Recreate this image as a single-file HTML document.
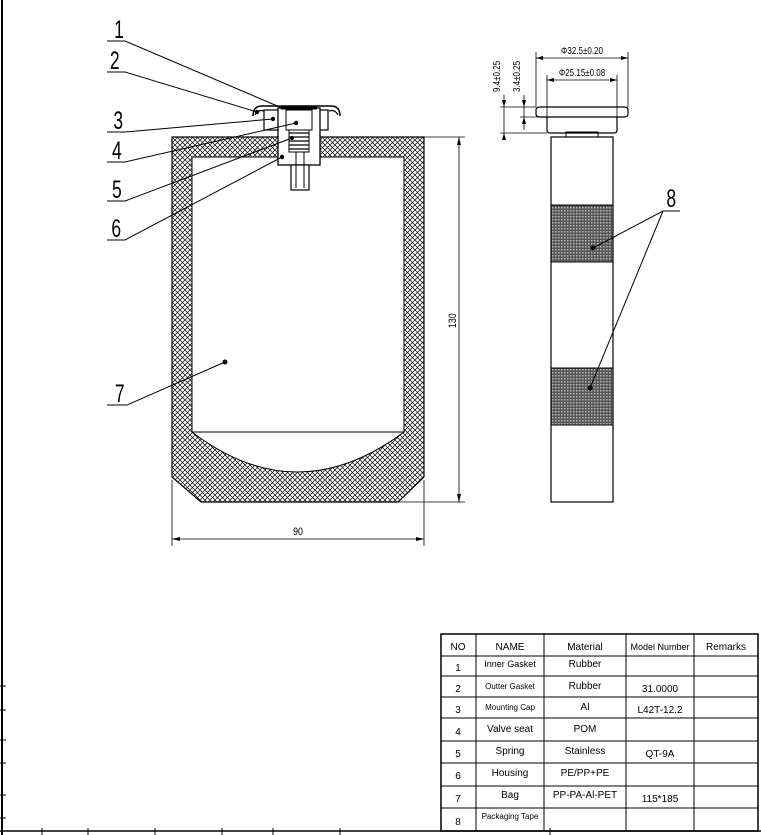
<!DOCTYPE html>
<html><head><meta charset="utf-8"><style>
html,body{margin:0;padding:0;background:#fff}
svg{display:block}
text{font-family:"Liberation Sans",sans-serif;fill:#000}
</style></head><body>
<svg width="761" height="835" viewBox="0 0 761 835" xmlns="http://www.w3.org/2000/svg">
<defs>
<pattern id="h" width="5" height="5" patternUnits="userSpaceOnUse">
<rect width="5" height="5" fill="#fff"/>
<path d="M0,0L5,5M5,0L0,5" stroke="#000" stroke-width="0.7"/>
</pattern>
<pattern id="d" width="3" height="3" patternUnits="userSpaceOnUse">
<rect width="3" height="3" fill="#555"/>
<rect width="1.5" height="1.5" fill="#bbb"/>
</pattern>
</defs>
<g stroke="#000" fill="none">
<line x1="2" y1="0" x2="2" y2="835" stroke-width="2"/>
<line x1="0" y1="831" x2="761" y2="831" stroke-width="1.5"/>
<g stroke-width="1">
<line x1="0" y1="686" x2="6" y2="686"/><line x1="0" y1="710" x2="6" y2="710"/>
<line x1="0" y1="740" x2="6" y2="740"/><line x1="0" y1="763" x2="6" y2="763"/>
<line x1="0" y1="795" x2="6" y2="795"/><line x1="0" y1="818" x2="6" y2="818"/>
<line x1="42" y1="828" x2="42" y2="835"/><line x1="88" y1="828" x2="88" y2="835"/>
<line x1="155" y1="828" x2="155" y2="835"/><line x1="222" y1="828" x2="222" y2="835"/>
<line x1="273" y1="828" x2="273" y2="835"/><line x1="340" y1="828" x2="340" y2="835"/>
<line x1="550" y1="828" x2="550" y2="835"/>
</g>
<path d="M172,137H424V477L398,502H201L172,477Z" fill="url(#h)" stroke-width="1.2"/>
<path d="M192,157H404V432H192Z" fill="#fff" stroke-width="1"/>
<path d="M192,432Q297,512 404,432Z" fill="#fff" stroke-width="1"/>
<path d="M253,116Q253,106 262,106H331Q340,106 340,116" stroke-width="1.5" fill="#fff"/>
<path d="M255,115Q258,109 264,111" stroke-width="1.2"/>
<path d="M338,115Q335,109 329,111" stroke-width="1.2"/>
<rect x="264" y="110" width="64" height="20" fill="#fff" stroke-width="1.2"/>
<rect x="278" y="108" width="42" height="57" fill="#fff" stroke-width="1.3"/>
<rect x="286" y="110" width="26" height="20" stroke-width="1"/>
<line x1="281" y1="108" x2="317" y2="108" stroke-width="3"/>
<g stroke-width="1.2"><line x1="289" y1="133" x2="309" y2="133"/><line x1="289" y1="137" x2="309" y2="137"/><line x1="289" y1="141" x2="309" y2="141"/><line x1="289" y1="145" x2="309" y2="145"/><line x1="289" y1="149" x2="309" y2="149"/></g>
<rect x="289" y="130" width="20" height="22" stroke-width="1"/>
<rect x="291" y="165" width="18" height="25" fill="#fff" stroke-width="1.2"/>
<line x1="296" y1="152" x2="296" y2="188"/><line x1="304" y1="152" x2="304" y2="188"/>
<g stroke-width="0.8">
<line x1="424" y1="137" x2="465" y2="137"/><line x1="398" y1="502" x2="465" y2="502"/>
<line x1="459" y1="137" x2="459" y2="502"/>
<line x1="172" y1="480" x2="172" y2="546"/><line x1="424" y1="480" x2="424" y2="546"/>
<line x1="172" y1="539" x2="424" y2="539"/>
</g>
<rect x="551" y="137" width="62" height="365" stroke-width="1.2" fill="#fff"/>
<rect x="551" y="205" width="62" height="57" fill="url(#d)" stroke-width="1"/>
<rect x="551" y="368" width="62" height="57" fill="url(#d)" stroke-width="1"/>
<rect x="566" y="132" width="32" height="5" stroke-width="1"/>
<path d="M536,110Q536,107 540,107H624Q628,107 628,110V114Q628,117 624,117H540Q536,117 536,114Z" stroke-width="1.2"/>
<path d="M547,117V130Q547,133 550,133H614Q617,133 617,130V117" stroke-width="1.2"/>
<g stroke-width="0.8">
<line x1="536" y1="52" x2="536" y2="107"/><line x1="628" y1="52" x2="628" y2="107"/>
<line x1="536" y1="58" x2="628" y2="58"/>
<line x1="547" y1="75" x2="547" y2="117"/><line x1="617" y1="75" x2="617" y2="117"/>
<line x1="547" y1="80" x2="617" y2="80"/>
<line x1="500" y1="107" x2="536" y2="107"/><line x1="520" y1="117" x2="547" y2="117"/>
<line x1="500" y1="133" x2="547" y2="133"/>
<line x1="504" y1="95" x2="504" y2="140"/><line x1="524" y1="95" x2="524" y2="130"/>
</g>
<g stroke-width="1">
<path d="M107,41H125L282,108"/>
<path d="M107,72H125L257,112"/>
<path d="M107,132H125L273,119"/>
<path d="M107,162H125L296,123"/>
<path d="M107,201H125L292,138"/>
<path d="M107,240H125L282,157"/>
<path d="M107,405H127L225,362"/>
<path d="M593,248L663,211H680M663,211L590,388"/>
</g>
</g>
<g fill="#000">
<circle cx="257" cy="112" r="2.2"/><circle cx="273" cy="119" r="2.2"/><circle cx="296" cy="123" r="2.2"/>
<circle cx="292" cy="138" r="2"/><circle cx="282" cy="157" r="2.2"/><circle cx="225" cy="362" r="2.5"/>
<circle cx="593" cy="248" r="2.5"/><circle cx="590" cy="388" r="2.5"/>
<path d="M459,137l-2,8h4z M459,502l-2,-8h4z M172,539l8,-2v4z M424,539l-8,-2v4z"/>
<path d="M536,58l7,-2v4z M628,58l-7,-2v4z M547,80l7,-2v4z M617,80l-7,-2v4z"/>
<path d="M504,107l-2,-7h4z M504,133l-2,7h4z M524,107l-2,-7h4z M524,117l-2,7h4z"/>
</g>
<g font-size="25" text-anchor="middle" transform="scale(0.7,1)">
<text x="170" y="38">1</text><text x="164" y="69">2</text>
<text x="169" y="129">3</text><text x="167" y="159">4</text>
<text x="167" y="198">5</text><text x="166" y="237">6</text>
<text x="171" y="402">7</text><text x="959" y="207">8</text>
</g>
<text x="298" y="535" font-size="11" text-anchor="middle" transform="translate(298,0) scale(0.8,1) translate(-298,0)">90</text>
<text x="0" y="0" font-size="11" transform="translate(456,328) rotate(-90) scale(0.8,1)">130</text>
<text x="582" y="54" font-size="10" text-anchor="middle" transform="translate(582,0) scale(0.8,1) translate(-582,0)">Φ32.5±0.20</text>
<text x="582" y="76" font-size="10" text-anchor="middle" transform="translate(582,0) scale(0.8,1) translate(-582,0)">Φ25.15±0.08</text>
<text x="0" y="0" font-size="10" transform="translate(500,92) rotate(-90) scale(0.8,1)">9.4±0.25</text>
<text x="0" y="0" font-size="10" transform="translate(520,92) rotate(-90) scale(0.8,1)">3.4±0.25</text>
<g stroke="#000" stroke-width="1" fill="none">
<rect x="441" y="634" width="317" height="197" stroke-width="1.5"/>
<line x1="476" y1="634" x2="476" y2="831"/><line x1="544" y1="634" x2="544" y2="831"/>
<line x1="626" y1="634" x2="626" y2="831"/><line x1="694" y1="634" x2="694" y2="831"/>
<line x1="441" y1="656" x2="758" y2="656"/><line x1="441" y1="676" x2="758" y2="676"/>
<line x1="441" y1="697" x2="758" y2="697"/><line x1="441" y1="718" x2="758" y2="718"/>
<line x1="441" y1="741" x2="758" y2="741"/><line x1="441" y1="763" x2="758" y2="763"/>
<line x1="441" y1="786" x2="758" y2="786"/><line x1="441" y1="808" x2="758" y2="808"/>
</g>
<g font-size="10" text-anchor="middle">
<text x="458" y="650">NO</text><text x="510" y="650">NAME</text><text x="585" y="650">Material</text><text x="660" y="650" font-size="9">Model Number</text><text x="726" y="650">Remarks</text>
<text x="458" y="671">1</text><text x="510" y="667" font-size="9">Inner Gasket</text><text x="585" y="667">Rubber</text>
<text x="458" y="692">2</text><text x="510" y="689" font-size="8">Outter Gasket</text><text x="585" y="689">Rubber</text><text x="660" y="692">31.0000</text>
<text x="458" y="713">3</text><text x="510" y="710" font-size="8">Mounting Cap</text><text x="585" y="710">Al</text><text x="660" y="713">L42T-12.2</text>
<text x="458" y="735">4</text><text x="510" y="732">Valve seat</text><text x="585" y="732">POM</text>
<text x="458" y="757">5</text><text x="510" y="754">Spring</text><text x="585" y="754">Stainless</text><text x="660" y="757">QT-9A</text>
<text x="458" y="779">6</text><text x="510" y="776">Housing</text><text x="585" y="776">PE/PP+PE</text>
<text x="458" y="802">7</text><text x="510" y="798">Bag</text><text x="585" y="798">PP-PA-Al-PET</text><text x="660" y="802">115*185</text>
<text x="458" y="825">8</text><text x="510" y="819" font-size="8">Packaging Tape</text>
</g>
</svg>
</body></html>
